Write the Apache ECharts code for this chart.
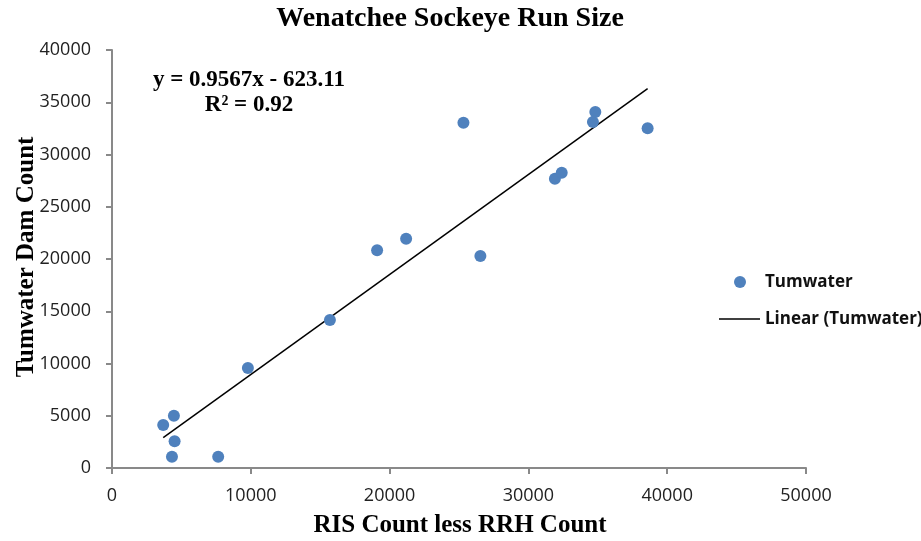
<!DOCTYPE html>
<html>
<head>
<meta charset="utf-8">
<script src="https://cdn.jsdelivr.net/npm/echarts@6/dist/echarts.min.js"></script>
<style>html,body{margin:0;padding:0;background:#fff}#c{width:921px;height:541px}</style>
</head>
<body>
<div id="c"></div>
<script>
// Data
const risLessRrh = [3690, 4460, 4510, 4320, 7650, 9790, 15700, 19100, 21190, 25320, 26540, 31910, 32400, 34650, 34820, 38590];
const tumwaterCount = [4110, 5000, 2555, 1080, 1080, 9570, 14160, 20830, 21940, 33040, 20290, 27680, 28260, 33110, 34070, 32510];
const trendCoef = [0.9567, -623.11]; // slope, intercept
const xTicks = [0, 10000, 20000, 30000, 40000, 50000];
const yTicks = [0, 5000, 10000, 15000, 20000, 25000, 30000, 35000, 40000];

const pts = risLessRrh.map((x, i) => [x, tumwaterCount[i]]);
const xMin = Math.min(...risLessRrh), xMax = Math.max(...risLessRrh);
const trend = [[xMin, trendCoef[0] * xMin + trendCoef[1]], [xMax, trendCoef[0] * xMax + trendCoef[1]]];

const serif = 'Liberation Serif, Times New Roman, serif';
const sans = 'Open Sans, sans-serif';
const axisColor = '#898989';

const chart = echarts.init(document.getElementById('c'), null, {renderer: 'canvas'});
chart.setOption({
  animation: false,
  grid: {left: 112, right: 115, top: 50, bottom: 73, containLabel: false},
  xAxis: {
    type: 'value', min: xTicks[0], max: xTicks[xTicks.length - 1], interval: 10000,
    splitLine: {show: false},
    axisLine: {show: true, lineStyle: {color: axisColor, width: 2}},
    axisTick: {show: true, length: 6, lineStyle: {color: axisColor, width: 2}},
    axisLabel: {margin: 19, fontFamily: sans, fontSize: 18, color: '#222', formatter: v => String(v)}
  },
  yAxis: {
    type: 'value', min: yTicks[0], max: yTicks[yTicks.length - 1], interval: 5000,
    splitLine: {show: false},
    axisLine: {show: true, lineStyle: {color: axisColor, width: 2}},
    axisTick: {show: true, length: 6, lineStyle: {color: axisColor, width: 2}},
    axisLabel: {margin: 21, fontFamily: sans, fontSize: 18, color: '#222', formatter: v => String(v)}
  },
  legend: [
    {
      data: [{name: 'Tumwater', icon: 'circle'}],
      orient: 'vertical', left: 734, top: 272, padding: 0, itemWidth: 12, itemHeight: 12,
      textStyle: {fontFamily: sans, fontSize: 17, fontWeight: 'bold', color: '#111', lineHeight: 20, padding: [0, 0, 0, 14]}
    },
    {
      data: [{name: 'Linear (Tumwater)', icon: 'path://M0,0 L40,0 L40,1.4 L0,1.4 Z'}],
      orient: 'vertical', left: 719, top: 309, padding: 0, itemWidth: 41, itemHeight: 12,
      textStyle: {fontFamily: sans, fontSize: 17, fontWeight: 'bold', color: '#111', lineHeight: 20}
    }
  ],
  series: [
    {
      name: 'Tumwater', type: 'scatter', data: pts, symbol: 'circle', symbolSize: 12,
      itemStyle: {color: '#4F81BD', opacity: 1}, z: 3
    },
    {
      name: 'Linear (Tumwater)', type: 'line', data: trend, showSymbol: false, symbol: 'none',
      lineStyle: {color: '#000', width: 1.5}, itemStyle: {color: '#000'}, z: 2
    }
  ],
  graphic: [
    {type: 'text', x: 450, y: 19, style: {text: 'Wenatchee Sockeye Run Size', font: 'bold 28px ' + serif, fill: '#000', align: 'center', verticalAlign: 'middle'}},
    {type: 'text', x: 249, y: 80, style: {text: 'y = 0.9567x - 623.11', font: 'bold 23px ' + serif, fill: '#000', align: 'center', verticalAlign: 'middle'}},
    {type: 'text', x: 249, y: 105, style: {text: 'R² = 0.92', font: 'bold 23px ' + serif, fill: '#000', align: 'center', verticalAlign: 'middle'}},
    {type: 'text', x: 27, y: 257, rotation: Math.PI / 2, style: {text: 'Tumwater Dam Count', font: 'bold 25px ' + serif, fill: '#000', align: 'center', verticalAlign: 'middle'}},
    {type: 'text', x: 460, y: 526, style: {text: 'RIS Count less RRH Count', font: 'bold 25px ' + serif, fill: '#000', align: 'center', verticalAlign: 'middle'}}
  ]
});
</script>
</body>
</html>
